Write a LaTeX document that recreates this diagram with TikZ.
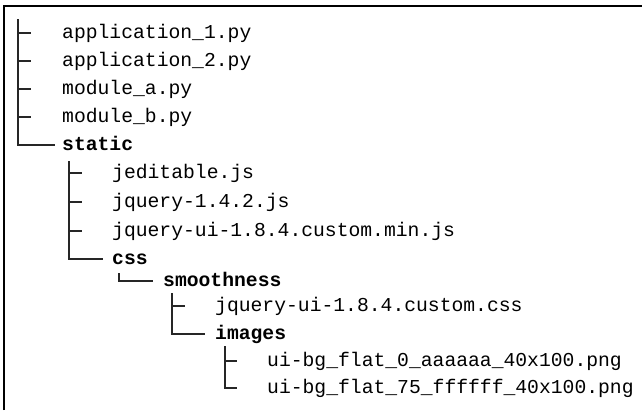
\documentclass[tikz,border=0pt]{standalone}
\usepackage{fontspec}
\setmonofont{Liberation Mono}
\begin{document}
\begin{tikzpicture}[x=1pt,y=-1pt,
  file/.style={anchor=base west, inner sep=0pt, font=\ttfamily\fontsize{19.7}{24}\selectfont},
  dir/.style={anchor=base west, inner sep=0pt, font=\ttfamily\bfseries\fontsize{19.7}{24}\selectfont},
  branch/.style={line width=1.3pt, draw=black!85},
  frameline/.style={line width=2pt}]
\useasboundingbox (0,0) rectangle (642,410);
\draw[frameline] (4,410) -- (4,6) -- (642,6);

% nodes
\node[file] (a1) at (62,38) {application\_1.py};
\node[file] (a2) at (62,66) {application\_2.py};
\node[file] (ma) at (62,94) {module\_a.py};
\node[file] (mb) at (62,122) {module\_b.py};
\node[dir]  (st) at (62,150) {static};
\node[file] (je) at (112,178) {jeditable.js};
\node[file] (jq) at (112,207) {jquery-1.4.2.js};
\node[file] (ju) at (112,236) {jquery-ui-1.8.4.custom.min.js};
\node[dir]  (cs) at (112,264) {css};
\node[dir]  (sm) at (163,286) {smoothness};
\node[file] (jc) at (215,311) {jquery-ui-1.8.4.custom.css};
\node[dir]  (im) at (215,339) {images};
\node[file] (u0) at (267,366) {ui-bg\_flat\_0\_aaaaaa\_40x100.png};
\node[file] (u7) at (267,393) {ui-bg\_flat\_75\_ffffff\_40x100.png};

% vertical starts
\coordinate (root) at (18,19);
\coordinate (stv) at ([xshift=7pt,yshift=-11pt]st.base west);
\coordinate (csv) at ([xshift=7pt,yshift=-9pt]cs.base west);
\coordinate (smv) at ([xshift=9pt,yshift=-7pt]sm.base west);
\coordinate (imv) at ([xshift=10pt,yshift=-7pt]im.base west);

% connectors
\foreach \n in {a1,a2,ma,mb}
  \draw[branch] (root) |- ([xshift=-31pt,yshift=5pt]\n.base west);
\draw[branch] (root) |- ([xshift=-7pt,yshift=5pt]st.base west);
\foreach \n in {je,jq,ju}
  \draw[branch] (stv) |- ([xshift=-30pt,yshift=5pt]\n.base west);
\draw[branch] (stv) |- ([xshift=-9pt,yshift=5pt]cs.base west);
\draw[branch] (csv) |- ([xshift=-10pt,yshift=5pt]sm.base west);
\draw[branch] (smv) |- ([xshift=-30pt,yshift=5pt]jc.base west);
\draw[branch] (smv) |- ([xshift=-10pt,yshift=5pt]im.base west);
\foreach \n in {u0,u7}
  \draw[branch] (imv) |- ([xshift=-30pt,yshift=5pt]\n.base west);
\end{tikzpicture}
\end{document}
